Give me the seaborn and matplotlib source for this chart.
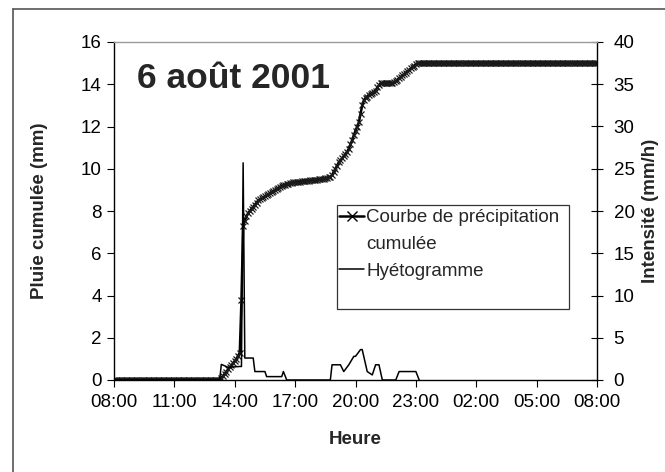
import matplotlib
matplotlib.use("Agg")
import matplotlib.pyplot as plt
from matplotlib.lines import Line2D
from matplotlib.patches import Rectangle
import pandas as pd
import seaborn as sns

# Cumulative rainfall (mm), one value every 5 minutes, 6 Aug 2001 08:00 -> 7 Aug 08:00
# each row is one hour (xx:00 ... xx:55)
cumul_mm = [
    0, 0, 0, 0, 0, 0, 0, 0, 0, 0, 0, 0,                                   # 08
    0, 0, 0, 0, 0, 0, 0, 0, 0, 0, 0, 0,                                   # 09
    0, 0, 0, 0, 0, 0, 0, 0, 0, 0, 0, 0,                                   # 10
    0, 0, 0, 0, 0, 0, 0, 0, 0, 0, 0, 0,                                   # 11
    0, 0, 0, 0, 0, 0, 0, 0, 0, 0, 0, 0,                                   # 12
    0, 0, 0, 0, 0.1, 0.2, 0.3, 0.4, 0.5, 0.6, 0.7, 0.8,                   # 13
    0.9, 1.0, 1.15, 1.3, 3.8, 7.3, 7.55, 7.75, 7.9, 8.0, 8.1, 8.2,        # 14
    8.3, 8.4, 8.5, 8.55, 8.6, 8.65, 8.7, 8.75, 8.8, 8.85, 8.9, 8.95,      # 15
    9.0, 9.05, 9.1, 9.15, 9.2, 9.22, 9.25, 9.3, 9.3, 9.32, 9.33, 9.35,    # 16
    9.36, 9.37, 9.38, 9.39, 9.4, 9.41, 9.42, 9.43, 9.44, 9.45, 9.46, 9.47,  # 17
    9.48, 9.49, 9.5, 9.51, 9.52, 9.53, 9.55, 9.57, 9.59, 9.62, 9.7, 9.85,   # 18
    10.0, 10.15, 10.3, 10.4, 10.5, 10.6, 10.7, 10.8, 10.95, 11.15, 11.35, 11.6,  # 19
    11.8, 12.0, 12.2, 12.6, 13.0, 13.25, 13.35, 13.42, 13.5, 13.55, 13.6, 13.65,  # 20
    13.7, 13.85, 13.95, 14.05, 14.05, 14.05, 14.05, 14.05, 14.05, 14.05, 14.05, 14.1,  # 21
    14.15, 14.22, 14.28, 14.35, 14.42, 14.48, 14.55, 14.62, 14.68, 14.75, 14.82, 14.88,  # 22
    14.95, 15, 15, 15, 15, 15, 15, 15, 15, 15, 15, 15,                   # 23
    15, 15, 15, 15, 15, 15, 15, 15, 15, 15, 15, 15,                       # 00
    15, 15, 15, 15, 15, 15, 15, 15, 15, 15, 15, 15,                       # 01
    15, 15, 15, 15, 15, 15, 15, 15, 15, 15, 15, 15,                       # 02
    15, 15, 15, 15, 15, 15, 15, 15, 15, 15, 15, 15,                       # 03
    15, 15, 15, 15, 15, 15, 15, 15, 15, 15, 15, 15,                       # 04
    15, 15, 15, 15, 15, 15, 15, 15, 15, 15, 15, 15,                       # 05
    15, 15, 15, 15, 15, 15, 15, 15, 15, 15, 15, 15,                       # 06
    15, 15, 15, 15, 15, 15, 15, 15, 15, 15, 15, 15,                       # 07
    15,                                                                   # 08 (next day)
]

# Hyetograph: rainfall intensity (mm/h) at its break points
hyeto_heure = [
    "08:00", "13:15", "13:20", "13:40", "14:15", "14:20", "14:25", "14:30",
    "14:55", "15:00", "15:30", "15:35", "16:20", "16:25", "16:35", "18:45",
    "18:50", "19:15", "19:25", "19:40", "19:55", "20:00", "20:15", "20:20",
    "20:35", "20:50", "21:00", "21:10", "21:20", "22:00", "22:10", "23:00",
    "23:10",
]
hyeto_mm_h = [
    0.0, 0.0, 1.85, 1.5, 1.6, 1.6, 25.7, 2.6,
    2.6, 1.0, 1.0, 0.4, 0.4, 1.0, 0.0, 0.0,
    1.8, 1.8, 1.0, 1.8, 2.8, 2.8, 3.6, 3.6,
    1.0, 0.6, 1.8, 1.8, 0.0, 0.0, 1.0, 1.0,
    0.0,
]

x_tick_labels = ["08:00", "11:00", "14:00", "17:00", "20:00",
                 "23:00", "02:00", "05:00", "08:00"]
left_ticks = [0, 2, 4, 6, 8, 10, 12, 14, 16]
right_ticks = [0, 5, 10, 15, 20, 25, 30, 35, 40]

start = pd.Timestamp("2001-08-06 08:00")
end = pd.Timestamp("2001-08-07 08:00")
df_cumul = pd.DataFrame({
    "heure": pd.date_range(start, end, freq="5min"),
    "pluie": cumul_mm,
})
df_hyeto = pd.DataFrame({
    "heure": pd.to_datetime(["2001-08-06 " + h for h in hyeto_heure]),
    "intensite": hyeto_mm_h,
})

sns.set_style("ticks")
plt.rcParams["font.family"] = ["Liberation Sans", "DejaVu Sans"]

FS = 13.5
W, H = 665, 472
fig = plt.figure(figsize=(W / 100, H / 100), dpi=100)
ax = fig.add_axes([114 / W, 92 / H, 483 / W, 338 / H])
ax2 = ax.twinx()

sns.lineplot(data=df_cumul, x="heure", y="pluie", ax=ax, color="black",
             linewidth=1.8, marker="x", markersize=5, markeredgewidth=0.9,
             markeredgecolor="#1a1a1a")
sns.lineplot(data=df_hyeto, x="heure", y="intensite", ax=ax2, color="black",
             linewidth=1.1)

ax.set_xlim(start, end)
ax.set_ylim(0, 16)
ax2.set_ylim(0, 40)
ax.set_yticks(left_ticks)
ax2.set_yticks(right_ticks)
ax.set_xticks(pd.date_range(start, end, freq="3h"))
ax.set_xticklabels(x_tick_labels)

ax.tick_params(axis="y", direction="out", length=5, width=0.8, labelsize=FS,
               pad=4, colors="black")
ax.tick_params(axis="x", direction="out", length=5, width=0.8, labelsize=FS,
               pad=5, colors="black")
ax2.tick_params(axis="y", direction="inout", length=8, width=0.8,
                labelsize=FS, pad=8, colors="black")

for a in (ax, ax2):
    for s in a.spines.values():
        s.set_linewidth(1.0)
        s.set_color("black")
ax.spines["right"].set_visible(False)
ax2.spines["left"].set_visible(False)
ax2.spines["bottom"].set_visible(False)
ax.spines["top"].set_visible(False)
ax2.spines["top"].set_color("#9a9a9a")

ax.set_ylabel("Pluie cumulée (mm)", fontsize=FS, fontweight="bold")
ax2.set_ylabel("Intensité (mm/h)", fontsize=FS, fontweight="bold")
ax.set_xlabel("Heure", fontsize=FS, fontweight="bold")
ax.yaxis.label.set_verticalalignment("center")
ax2.yaxis.label.set_verticalalignment("center")
ax.xaxis.label.set_verticalalignment("center")
ax.yaxis.set_label_coords((40 - 114) / 483, 0.5)
ax2.yaxis.set_label_coords((650 - 114) / 483, 0.5)
ax.xaxis.set_label_coords(0.5, (380 - 440) / 338)

ax.text(23 / 483, 292 / 338, "6 août 2001", transform=ax.transAxes,
        fontsize=25.5, fontweight="bold", va="baseline", ha="left")

# legend frame
ax2.add_patch(Rectangle(((337 - 114) / 483, (380 - 309) / 338),
                        (569 - 337) / 483, (309 - 205) / 338,
                        transform=ax2.transAxes, facecolor="white",
                        edgecolor="#333333", linewidth=0.9, zorder=4))
handles = [
    Line2D([], [], color="black", linewidth=1.8, marker="x", markersize=7,
           markeredgewidth=1.0),
    Line2D([], [], linestyle="none"),
    Line2D([], [], color="black", linewidth=1.1),
]
leg = ax2.legend(handles, ["Courbe de précipitation", "cumulée", "Hyétogramme"],
                 loc="upper left",
                 bbox_to_anchor=((339 - 114) / 483, (380 - 209) / 338),
                 borderaxespad=0, borderpad=0, fontsize=FS, frameon=False,
                 handlelength=1.35, handletextpad=0.1, labelspacing=0.52)
leg.set_zorder(5)

# outer chart border
fig.add_artist(Line2D([12.5 / W, 12.5 / W], [0, 1 - 8.5 / H],
                      transform=fig.transFigure, color="#555555", linewidth=1.2))
fig.add_artist(Line2D([12.5 / W, 1], [1 - 8.5 / H, 1 - 8.5 / H],
                      transform=fig.transFigure, color="#555555", linewidth=1.2))

fig.savefig("out.png", dpi=100)
